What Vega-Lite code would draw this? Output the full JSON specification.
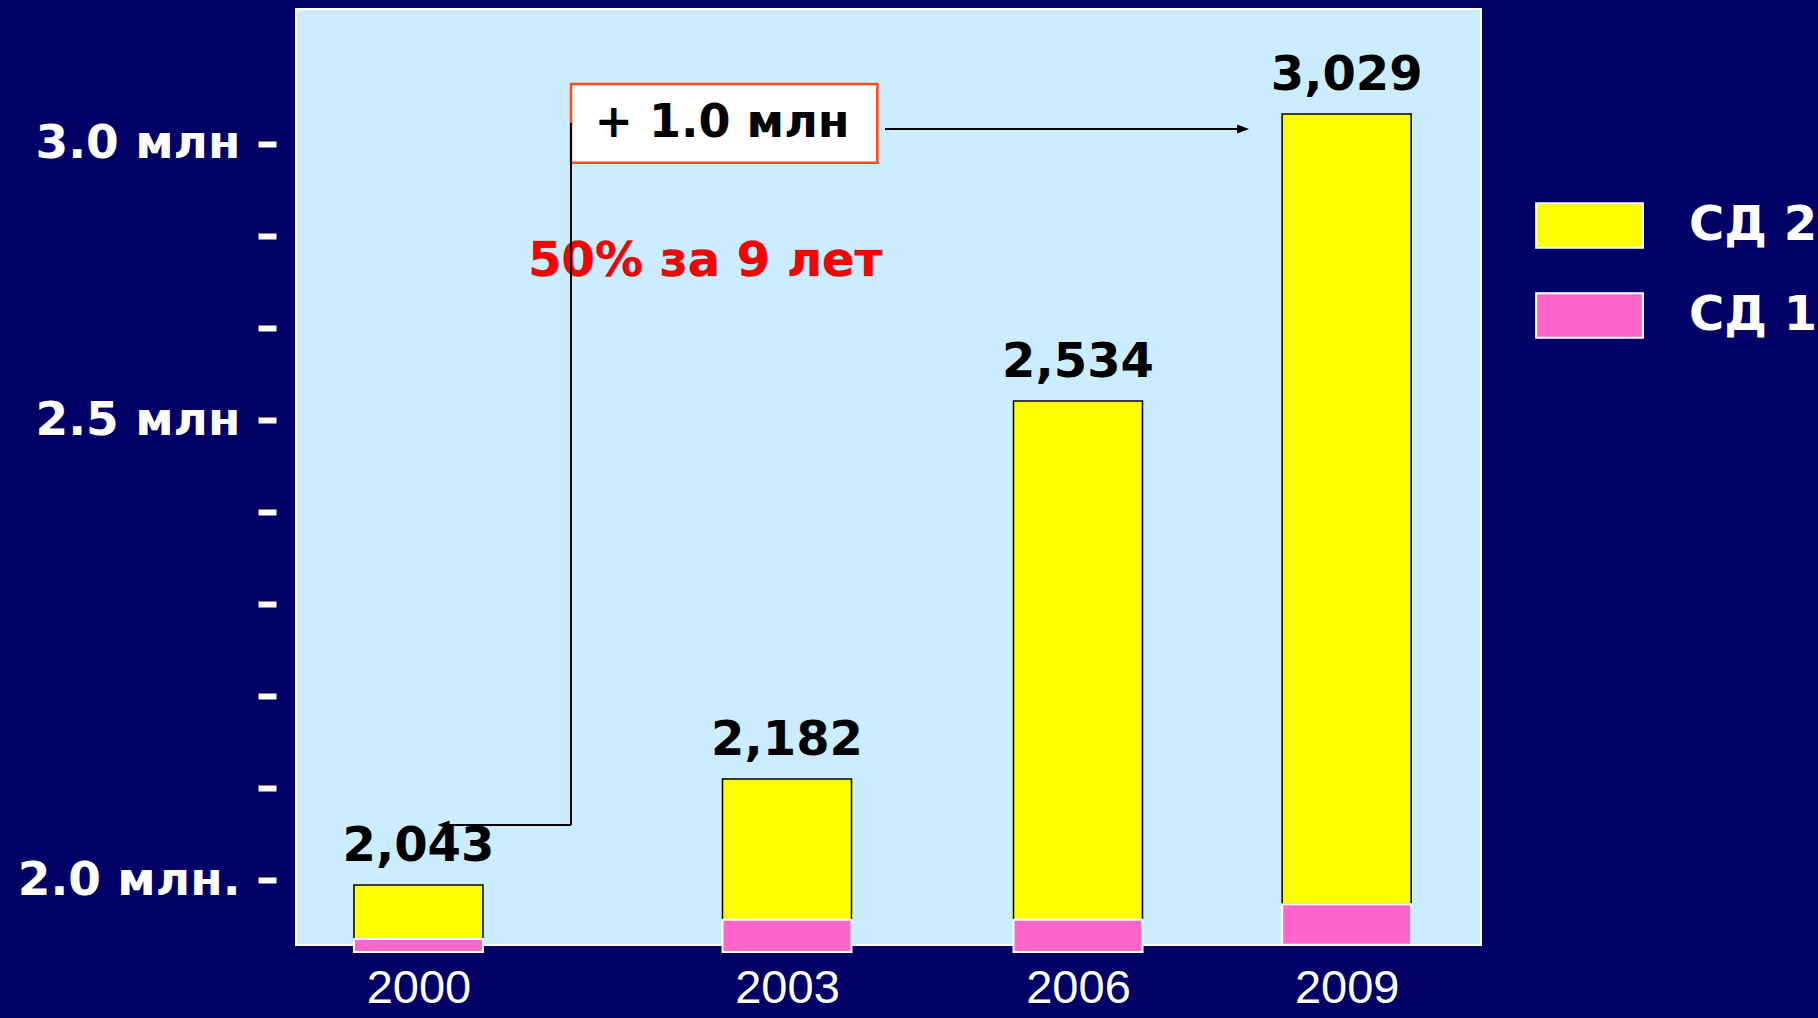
{
  "$schema": "https://vega.github.io/schema/vega-lite/v6.json",
  "width": 1185,
  "height": 936,
  "autosize": {"type": "none"},
  "padding": {"left": 296, "top": 9, "right": 337, "bottom": 73},
  "background": "#000066",
  "config": {
    "view": {"fill": "#CCECFF", "stroke": "#FFFFFF", "strokeWidth": 2},
    "axis": {"grid": false}
  },
  "datasets": {
    "bars": [
      {"year": 2000, "type": "СД 1", "lo": 1960, "hi": 1976},
      {"year": 2000, "type": "СД 2", "lo": 1976, "hi": 2043},
      {"year": 2003, "type": "СД 1", "lo": 1960, "hi": 2000},
      {"year": 2003, "type": "СД 2", "lo": 2000, "hi": 2182},
      {"year": 2006, "type": "СД 1", "lo": 1960, "hi": 2000},
      {"year": 2006, "type": "СД 2", "lo": 2000, "hi": 2534},
      {"year": 2009, "type": "СД 1", "lo": 1969, "hi": 2019},
      {"year": 2009, "type": "СД 2", "lo": 2019, "hi": 3029}
    ],
    "box": [{"x1": 2001.2417, "x2": 2003.931, "y1": 3080.7, "y2": 2945.0}],
    "boxtext": [{"x": 2002.4714, "y": 2989.8, "text": "+ 1.0 млн"}],
    "redtext": [{"x": 2002.335, "y": 2750.0, "text": "50% за 9 лет"}],
    "segments": [
      {"x1": 2001.2417, "x2": 2001.2417, "y1": 3013.5, "y2": 2121.7},
      {"x1": 2001.2417, "x2": 2000.204, "y1": 2121.7, "y2": 2121.7},
      {"x1": 2004.0103, "x2": 2007.843, "y1": 3003.1, "y2": 3003.1}
    ],
    "heads": [
      {"x": 2007.843, "y": 3003.1, "dir": "right"},
      {"x": 2000.204, "y": 2121.7, "dir": "left"}
    ],
    "ticks": [{"v": 2.0}, {"v": 3.0}]
  },
  "layer": [
    {
      "data": {"name": "ticks"},
      "mark": {"type": "point", "opacity": 0},
      "encoding": {
        "y": {
          "field": "v", "type": "quantitative", "title": null,
          "scale": {"domain": [2, 2.5, 3], "range": [871, 411, 134.7], "zero": false, "nice": false},
          "axis": {
            "values": [2, 2.1, 2.2, 2.3, 2.4, 2.5, 2.6666667, 2.8333333, 3],
            "labelExpr": "datum.value == 3 ? '3.0 млн\u00a0' : datum.value == 2.5 ? '2.5 млн' : datum.value == 2 ? '2.0 млн.' : ''",
            "orient": "left",
            "offset": 20,
            "domain": false,
            "ticks": true,
            "tickSize": 18,
            "tickWidth": 6,
            "tickColor": "#FFFFFF",
            "labelColor": "#FFFFFF",
            "labelFont": "DejaVu Sans",
            "labelFontWeight": "bold",
            "labelFontSize": 47,
            "labelPadding": 18,
            "labelLimit": 0,
            "labelOverlap": false,
            "labelFlush": false,
            "grid": false
          }
        }
      }
    },
    {
      "layer": [
        {
          "data": {"name": "bars"},
          "transform": [{"filter": "datum.type == 'СД 2'"}],
          "mark": {"type": "bar", "width": 129, "stroke": "#000000", "strokeWidth": 1.5},
          "encoding": {
            "x": {
              "field": "year", "type": "quantitative", "title": null,
              "scale": {"domain": [2000, 2003, 2006, 2009], "range": [116.5, 491, 782, 1055], "zero": false, "nice": false},
              "axis": {
                "values": [2000, 2003, 2006, 2009], "format": "d",
                "labelColor": "#FFFFFF", "labelFont": "Liberation Sans", "labelFontSize": 47,
                "labelPadding": 20, "domain": false, "ticks": false, "grid": false,
                "labelOverlap": false, "labelFlush": false
              }
            },
            "y": {
              "field": "hi", "type": "quantitative", "title": null,
              "scale": {"domain": [1960, 2043, 2182, 2534, 3029], "range": [943, 876, 770, 392, 105], "zero": false, "nice": false},
              "axis": null
            },
            "y2": {"field": "lo"},
            "color": {
              "field": "type", "type": "nominal",
              "scale": {"domain": ["СД 2", "СД 1"], "range": ["#FFFF00", "#FF66CC"]},
              "legend": {
                "orient": "none", "legendX": 1248, "legendY": 171, "title": null,
                "symbolType": "M-1.2,-0.5H1.2V0.5H-1.2Z", "symbolSize": 7921,
                "symbolStrokeColor": "#FFFFFF", "symbolStrokeWidth": 2, "symbolOpacity": 1,
                "labelColor": "#FFFFFF", "labelFont": "DejaVu Sans", "labelFontWeight": "bold",
                "labelFontSize": 48, "labelOffset": 54, "rowPadding": 18, "padding": 0
              }
            }
          }
        },
        {
          "data": {"name": "bars"},
          "transform": [{"filter": "datum.type == 'СД 1'"}],
          "mark": {"type": "bar", "width": 129, "stroke": "#FFFFFF", "strokeWidth": 2},
          "encoding": {
            "x": {
              "field": "year", "type": "quantitative", "title": null,
              "scale": {"domain": [2000, 2003, 2006, 2009], "range": [116.5, 491, 782, 1055], "zero": false, "nice": false}
            },
            "y": {
              "field": "hi", "type": "quantitative", "title": null,
              "scale": {"domain": [1960, 2043, 2182, 2534, 3029], "range": [943, 876, 770, 392, 105], "zero": false, "nice": false},
              "axis": null
            },
            "y2": {"field": "lo"},
            "color": {
              "field": "type", "type": "nominal",
              "scale": {"domain": ["СД 2", "СД 1"], "range": ["#FFFF00", "#FF66CC"]}
            }
          }
        },
        {
          "data": {"name": "bars"},
          "transform": [{"filter": "datum.type == 'СД 2'"}],
          "mark": {"type": "text", "font": "DejaVu Sans", "fontWeight": "bold", "fontSize": 48, "color": "#000000", "baseline": "alphabetic", "align": "center", "dy": -24},
          "encoding": {
            "x": {
              "field": "year", "type": "quantitative", "title": null,
              "scale": {"domain": [2000, 2003, 2006, 2009], "range": [116.5, 491, 782, 1055], "zero": false, "nice": false}
            },
            "y": {
              "field": "hi", "type": "quantitative", "title": null,
              "scale": {"domain": [1960, 2043, 2182, 2534, 3029], "range": [943, 876, 770, 392, 105], "zero": false, "nice": false},
              "axis": null
            },
            "text": {"field": "hi", "type": "quantitative", "format": ",d"}
          }
        },
        {
          "data": {"name": "box"},
          "mark": {"type": "rect", "fill": "#FFFFFF", "stroke": "#FF4A1C", "strokeWidth": 2.5},
          "encoding": {
            "x": {
              "field": "x1", "type": "quantitative", "title": null,
              "scale": {"domain": [2000, 2003, 2006, 2009], "range": [116.5, 491, 782, 1055], "zero": false, "nice": false}
            },
            "x2": {"field": "x2"},
            "y": {
              "field": "y1", "type": "quantitative", "title": null,
              "scale": {"domain": [1960, 2043, 2182, 2534, 3029], "range": [943, 876, 770, 392, 105], "zero": false, "nice": false},
              "axis": null
            },
            "y2": {"field": "y2"}
          }
        },
        {
          "data": {"name": "boxtext"},
          "mark": {"type": "text", "font": "DejaVu Sans", "fontWeight": "bold", "fontSize": 46, "color": "#000000", "baseline": "alphabetic", "align": "center"},
          "encoding": {
            "x": {
              "field": "x", "type": "quantitative", "title": null,
              "scale": {"domain": [2000, 2003, 2006, 2009], "range": [116.5, 491, 782, 1055], "zero": false, "nice": false}
            },
            "y": {
              "field": "y", "type": "quantitative", "title": null,
              "scale": {"domain": [1960, 2043, 2182, 2534, 3029], "range": [943, 876, 770, 392, 105], "zero": false, "nice": false},
              "axis": null
            },
            "text": {"field": "text"}
          }
        },
        {
          "data": {"name": "redtext"},
          "mark": {"type": "text", "font": "DejaVu Sans", "fontWeight": "bold", "fontSize": 48, "color": "#FF0000", "stroke": "#7A1A1A", "strokeWidth": 0.6, "strokeOpacity": 0.6, "baseline": "alphabetic", "align": "center"},
          "encoding": {
            "x": {
              "field": "x", "type": "quantitative", "title": null,
              "scale": {"domain": [2000, 2003, 2006, 2009], "range": [116.5, 491, 782, 1055], "zero": false, "nice": false}
            },
            "y": {
              "field": "y", "type": "quantitative", "title": null,
              "scale": {"domain": [1960, 2043, 2182, 2534, 3029], "range": [943, 876, 770, 392, 105], "zero": false, "nice": false},
              "axis": null
            },
            "text": {"field": "text"}
          }
        },
        {
          "data": {"name": "segments"},
          "mark": {"type": "rule", "color": "#000000", "strokeWidth": 2},
          "encoding": {
            "x": {
              "field": "x1", "type": "quantitative", "title": null,
              "scale": {"domain": [2000, 2003, 2006, 2009], "range": [116.5, 491, 782, 1055], "zero": false, "nice": false}
            },
            "x2": {"field": "x2"},
            "y": {
              "field": "y1", "type": "quantitative", "title": null,
              "scale": {"domain": [1960, 2043, 2182, 2534, 3029], "range": [943, 876, 770, 392, 105], "zero": false, "nice": false},
              "axis": null
            },
            "y2": {"field": "y2"}
          }
        },
        {
          "data": {"name": "heads"},
          "mark": {"type": "point", "filled": true, "color": "#000000", "opacity": 1, "size": 144},
          "encoding": {
            "x": {
              "field": "x", "type": "quantitative", "title": null,
              "scale": {"domain": [2000, 2003, 2006, 2009], "range": [116.5, 491, 782, 1055], "zero": false, "nice": false}
            },
            "y": {
              "field": "y", "type": "quantitative", "title": null,
              "scale": {"domain": [1960, 2043, 2182, 2534, 3029], "range": [943, 876, 770, 392, 105], "zero": false, "nice": false},
              "axis": null
            },
            "shape": {
              "field": "dir", "type": "nominal",
              "scale": {"domain": ["right", "left"], "range": ["M-1,-0.75L1,0L-1,0.75Z", "M1,-0.75L-1,0L1,0.75Z"]},
              "legend": null
            }
          }
        }
      ]
    }
  ],
  "resolve": {"scale": {"y": "independent"}}
}
